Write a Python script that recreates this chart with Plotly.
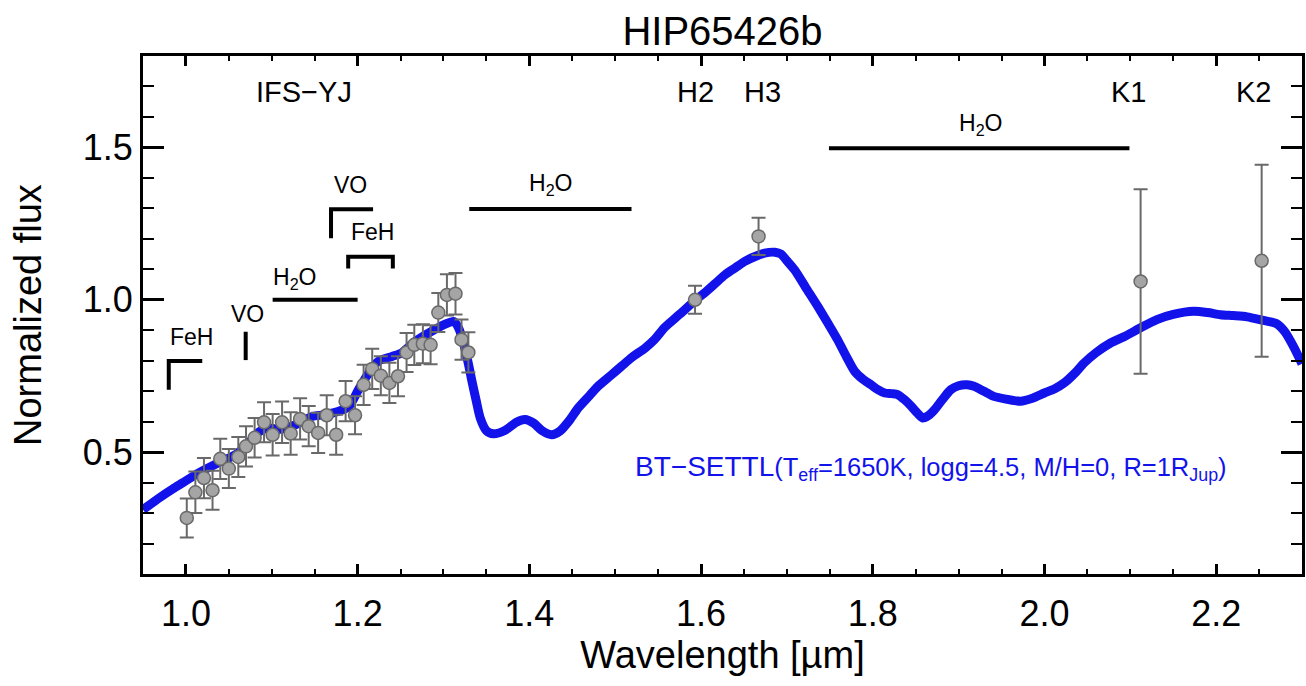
import plotly.graph_objects as go

# BT-SETTL model spectrum (wavelength in micron, normalized flux)
model_wl = [0.950, 0.969, 0.985, 0.996, 1.015, 1.038, 1.058, 1.069, 1.078, 1.085,
            1.093, 1.100, 1.108, 1.118, 1.128, 1.138, 1.147, 1.162, 1.178, 1.190,
            1.201, 1.213, 1.224, 1.240, 1.251, 1.267, 1.286, 1.302, 1.312, 1.318,
            1.324, 1.329, 1.333, 1.338, 1.343, 1.350, 1.358, 1.372, 1.385, 1.395,
            1.405, 1.415, 1.426, 1.436, 1.447, 1.457, 1.470, 1.480, 1.495, 1.507,
            1.520, 1.535, 1.546, 1.558, 1.570, 1.581, 1.593, 1.604, 1.616, 1.628,
            1.640, 1.651, 1.663, 1.674, 1.686, 1.693, 1.700, 1.709, 1.722, 1.736,
            1.748, 1.759, 1.769, 1.779, 1.789, 1.798, 1.806, 1.814, 1.822, 1.829,
            1.837, 1.845, 1.852, 1.858, 1.865, 1.872, 1.881, 1.891, 1.900, 1.910,
            1.918, 1.926, 1.934, 1.941, 1.955, 1.972, 1.986, 2.000, 2.012, 2.023,
            2.035, 2.046, 2.060, 2.077, 2.095, 2.112, 2.131, 2.150, 2.174, 2.190,
            2.205, 2.220, 2.236, 2.255, 2.270, 2.280, 2.290, 2.300]
model_flux = [0.311, 0.350, 0.380, 0.399, 0.432, 0.465, 0.492, 0.519, 0.545, 0.566,
              0.578, 0.578, 0.574, 0.580, 0.590, 0.605, 0.617, 0.623, 0.634, 0.650,
              0.705, 0.760, 0.798, 0.814, 0.825, 0.863, 0.896, 0.920, 0.929, 0.905,
              0.850, 0.790, 0.735, 0.670, 0.610, 0.570, 0.560, 0.572, 0.598, 0.607,
              0.595, 0.570, 0.557, 0.570, 0.605, 0.645, 0.685, 0.716, 0.752, 0.781,
              0.812, 0.842, 0.870, 0.910, 0.940, 0.967, 0.998, 1.022, 1.052, 1.082,
              1.105, 1.126, 1.142, 1.153, 1.156, 1.150, 1.128, 1.098, 1.040, 0.978,
              0.922, 0.869, 0.815, 0.765, 0.738, 0.721, 0.705, 0.694, 0.692, 0.689,
              0.672, 0.650, 0.628, 0.612, 0.620, 0.639, 0.672, 0.705, 0.718, 0.721,
              0.716, 0.705, 0.693, 0.683, 0.674, 0.667, 0.677, 0.694, 0.708, 0.727,
              0.758, 0.792, 0.826, 0.858, 0.882, 0.908, 0.935, 0.952, 0.962, 0.958,
              0.951, 0.948, 0.944, 0.932, 0.922, 0.895, 0.847, 0.790]

# SPHERE IFS-YJ spectrum
ifs_wl = [1.001, 1.011, 1.021, 1.031, 1.040, 1.050, 1.061, 1.070, 1.080, 1.091,
          1.101, 1.112, 1.122, 1.133, 1.143, 1.154, 1.164, 1.175, 1.186, 1.197,
          1.207, 1.217, 1.227, 1.237, 1.247, 1.257, 1.266, 1.276, 1.285, 1.294,
          1.304, 1.314, 1.321, 1.329]
ifs_flux = [0.284, 0.368, 0.415, 0.375, 0.478, 0.446, 0.484, 0.519, 0.547, 0.598,
            0.557, 0.598, 0.561, 0.609, 0.585, 0.563, 0.621, 0.557, 0.667, 0.621,
            0.721, 0.773, 0.751, 0.727, 0.749, 0.827, 0.852, 0.856, 0.852, 0.958,
            1.016, 1.020, 0.869, 0.827]
ifs_err = [0.064, 0.068, 0.066, 0.064, 0.066, 0.064, 0.066, 0.066, 0.065, 0.066,
           0.068, 0.068, 0.070, 0.068, 0.066, 0.066, 0.066, 0.066, 0.066, 0.062,
           0.066, 0.066, 0.064, 0.066, 0.066, 0.064, 0.066, 0.064, 0.064, 0.064,
           0.068, 0.068, 0.066, 0.066]

# IRDIS photometry (H2, H3, K1, K2)
phot_wl = [1.593, 1.667, 2.112, 2.253]
phot_flux = [1.000, 1.208, 1.060, 1.128]
phot_err = [0.046, 0.061, 0.303, 0.315]

# Filter names along the top
filter_names = ["IFS\u2212YJ", "H2", "H3", "K1", "K2"]
filter_wl = [1.138, 1.593, 1.672, 2.098, 2.244]

FONT = "Liberation Sans, Arial, Helvetica, sans-serif"
BLUE = "rgb(18,18,235)"
GREY_LINE = "rgb(105,105,105)"
GREY_FILL = "rgb(165,165,165)"

fig = go.Figure()

fig.add_trace(go.Scatter(
    x=model_wl, y=model_flux, mode="lines",
    line=dict(color=BLUE, width=9, shape="spline", smoothing=0.7),
    hoverinfo="skip", showlegend=False))

for wl, fl, er in [(ifs_wl, ifs_flux, ifs_err), (phot_wl, phot_flux, phot_err)]:
    fig.add_trace(go.Scatter(
        x=wl, y=fl, mode="markers",
        error_y=dict(type="data", array=er, visible=True, color=GREY_LINE,
                     thickness=2, width=7),
        marker=dict(size=13, color=GREY_FILL, line=dict(color=GREY_LINE, width=1.5)),
        showlegend=False))

# Molecular band markers
band_lines = [
    # H2O bands
    (1.101, 1.000, 1.200, 1.000),
    (1.330, 1.298, 1.519, 1.298),
    (1.749, 1.497, 2.099, 1.497),
    # VO (low)
    (1.0696, 0.895, 1.0696, 0.802),
]
for x0, y0, x1, y1 in band_lines:
    fig.add_shape(type="line", x0=x0, y0=y0, x1=x1, y1=y1,
                  line=dict(color="black", width=4))

# Brackets: FeH (low), VO (upper), FeH (upper)
brackets = [
    "M 0.980 0.705 L 0.980 0.799 L 1.019 0.799",
    "M 1.169 1.202 L 1.169 1.297 L 1.218 1.297",
    "M 1.189 1.103 L 1.189 1.141 L 1.241 1.141 L 1.241 1.103",
]
for p in brackets:
    fig.add_shape(type="path", path=p, line=dict(color="black", width=4))

labels = [
    ("FeH", 1.007, 0.879),
    ("VO", 1.072, 0.954),
    ("H<sub>2</sub>O", 1.126, 1.071),
    ("VO", 1.192, 1.377),
    ("FeH", 1.217, 1.224),
    ("H<sub>2</sub>O", 1.425, 1.377),
    ("H<sub>2</sub>O", 1.926, 1.574),
]
for txt, x, y in labels:
    fig.add_annotation(x=x, y=y, text=txt, showarrow=False,
                       font=dict(family=FONT, size=23, color="black"))

for name, x in zip(filter_names, filter_wl):
    fig.add_annotation(x=x, y=1.682, text=name, showarrow=False,
                       font=dict(family=FONT, size=29, color="black"))

fig.add_annotation(
    x=1.521, y=0.448, xanchor="left", showarrow=False,
    text=("BT\u2212SETTL<span style='font-size:25.5px'>(T<sub>eff</sub>=1650K, logg=4.5, "
          "M/H=0, R=1R<sub>Jup</sub>)</span>"),
    font=dict(family=FONT, size=28, color=BLUE))

# Y-axis title placed as a rotated annotation left of the tick labels
fig.add_annotation(
    x=0, xref="paper", y=0.5, yref="paper", xanchor="center", yanchor="middle",
    xshift=-115, textangle=-90, showarrow=False, text="Normalized flux",
    font=dict(family=FONT, size=38, color="black"))

fig.update_layout(
    width=1306, height=686,
    margin=dict(l=143, r=1, t=56, b=112),
    plot_bgcolor="white", paper_bgcolor="white",
    title=dict(text="HIP65426b", x=0.5, xref="paper", xanchor="center",
               y=0.955, yanchor="middle",
               font=dict(family=FONT, size=40, color="black")),
    font=dict(family=FONT, color="black"),
)

fig.update_xaxes(
    range=[0.95, 2.30], tick0=1.0, dtick=0.2, tickformat=".1f",
    ticks="inside", ticklen=10, tickwidth=2.5, tickcolor="black",
    minor=dict(dtick=0.05, ticks="inside", ticklen=5, tickwidth=2, tickcolor="black"),
    showline=True, linecolor="black", linewidth=3, mirror="allticks",
    showgrid=False, zeroline=False, ticklabelstandoff=6,
    tickfont=dict(family=FONT, size=36, color="black"),
    title=dict(text="Wavelength [\u00b5m]", font=dict(family=FONT, size=38, color="black"),
               standoff=8),
)
fig.update_yaxes(
    range=[0.1, 1.8], tick0=0.0, dtick=0.5, tickformat=".1f",
    ticks="inside", ticklen=21, tickwidth=2.5, tickcolor="black",
    minor=dict(dtick=0.1, ticks="inside", ticklen=11, tickwidth=2, tickcolor="black"),
    showline=True, linecolor="black", linewidth=3, mirror="allticks",
    showgrid=False, zeroline=False,
    tickfont=dict(family=FONT, size=36, color="black"),
)

fig.write_html("out.html")
